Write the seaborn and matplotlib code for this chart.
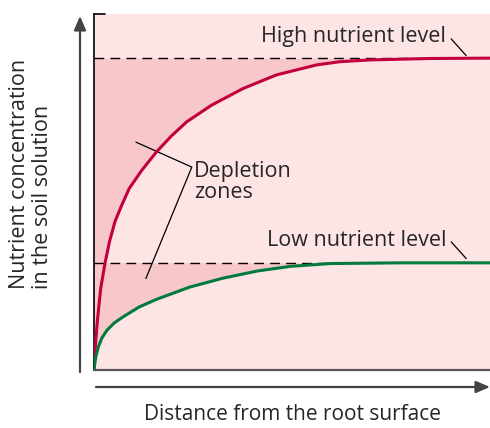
import numpy as np
import pandas as pd
import seaborn as sns
import matplotlib.pyplot as plt

sns.set_theme(style="white")
plt.rcParams["font.family"] = ["Open Sans", "DejaVu Sans"]

# distance from root surface (0..1) and concentration (0..1)
high_x = [0.0, 0.002, 0.005, 0.0083, 0.0169, 0.0278, 0.039, 0.053, 0.070, 0.089, 0.120,
          0.158, 0.196, 0.234, 0.297, 0.377, 0.461, 0.562, 0.621, 0.697, 0.848, 1.0]
high_y = [0.0, 0.045, 0.090, 0.136, 0.229, 0.300, 0.360, 0.417, 0.463, 0.510, 0.560,
          0.613, 0.658, 0.697, 0.744, 0.791, 0.829, 0.857, 0.866, 0.871, 0.875, 0.876]
low_x = [0.0, 0.0025, 0.005, 0.011, 0.020, 0.033, 0.051, 0.073, 0.114, 0.159, 0.242,
         0.326, 0.412, 0.495, 0.596, 0.773, 1.0]
low_y = [0.0, 0.022, 0.039, 0.065, 0.090, 0.112, 0.132, 0.149, 0.177, 0.199, 0.233,
         0.258, 0.278, 0.291, 0.299, 0.301, 0.301]
high_level = 0.876
low_level = 0.301

light_pink = "#fde4e5"
dark_pink = "#f8c7c9"
red = "#c2003d"
green = "#007a3d"
gray = "#555555"

df_high = pd.DataFrame({"distance": high_x, "conc": high_y})
df_low = pd.DataFrame({"distance": low_x, "conc": low_y})

fig = plt.figure(figsize=(4.9, 4.28), dpi=100)
ax = fig.add_axes([94 / 490, 58 / 428, 396 / 490, 356 / 428])
ax.set_facecolor(light_pink)

ax.fill_between(df_high["distance"], df_high["conc"], high_level, color=dark_pink, lw=0, zorder=1)
ax.fill_between(df_low["distance"], df_low["conc"], low_level, color=dark_pink, lw=0, zorder=1)

ax.plot([0, 0.86], [high_level, high_level], color="black", lw=1.0, dashes=(7, 4.5), zorder=2)
ax.plot([0, 0.6], [low_level, low_level], color="black", lw=1.0, dashes=(7, 4.5), zorder=2)

sns.lineplot(data=df_high, x="distance", y="conc", ax=ax, color=red, lw=2.2, sort=False, zorder=3)
sns.lineplot(data=df_low, x="distance", y="conc", ax=ax, color=green, lw=2.2, sort=False, zorder=3)

ax.set_xlim(0, 1)
ax.set_ylim(0, 1)
ax.set_xticks([])
ax.set_yticks([])
ax.set_xlabel("")
ax.set_ylabel("")
for side in ["top", "right"]:
    ax.spines[side].set_visible(False)
ax.spines["bottom"].set_color(gray)
ax.spines["bottom"].set_linewidth(1.6)
ax.spines["left"].set_color("black")
ax.spines["left"].set_linewidth(1.2)
# small cap at the top of the y spine
ax.plot([0, 0.028], [1, 1], color="black", lw=1.2, transform=ax.transAxes, clip_on=False)

# labels and leader lines
fs = 15.5
ax.text(0.422, 0.938, "High nutrient level", fontsize=fs, va="center", ha="left")
ax.plot([0.902, 0.94], [0.93, 0.883], color="black", lw=0.9)
ax.text(0.437, 0.365, "Low nutrient level", fontsize=fs, va="center", ha="left")
ax.plot([0.902, 0.94], [0.36, 0.313], color="black", lw=0.9)
ax.text(0.253, 0.527, "Depletion\nzones", fontsize=fs, va="center", ha="left", linespacing=1.0)
ax.plot([0.106, 0.247, 0.131], [0.640, 0.570, 0.257], color="black", lw=0.9)

# axis arrows
arrow_kw = dict(arrowstyle="-|>,head_length=0.7,head_width=0.3", color="#444444", lw=1.6,
                shrinkA=0, shrinkB=0)
fig.add_artist(plt.Annotation("", xy=(80 / 490, 1 - 16 / 428), xytext=(80 / 490, 1 - 372 / 428),
                              xycoords="figure fraction", arrowprops=arrow_kw))
fig.add_artist(plt.Annotation("", xy=(490 / 490, 1 - 387 / 428), xytext=(96 / 490, 1 - 387 / 428),
                              xycoords="figure fraction", arrowprops=arrow_kw))

fig.text(31 / 490, 1 - 174 / 428, "Nutrient concentration\nin the soil solution", fontsize=fs,
         rotation=90, ha="center", va="center", multialignment="left", linespacing=1.1)
fig.text(293 / 490, 1 - 414 / 428, "Distance from the root surface", fontsize=15,
         ha="center", va="center")

fig.savefig("out.png", dpi=100)
